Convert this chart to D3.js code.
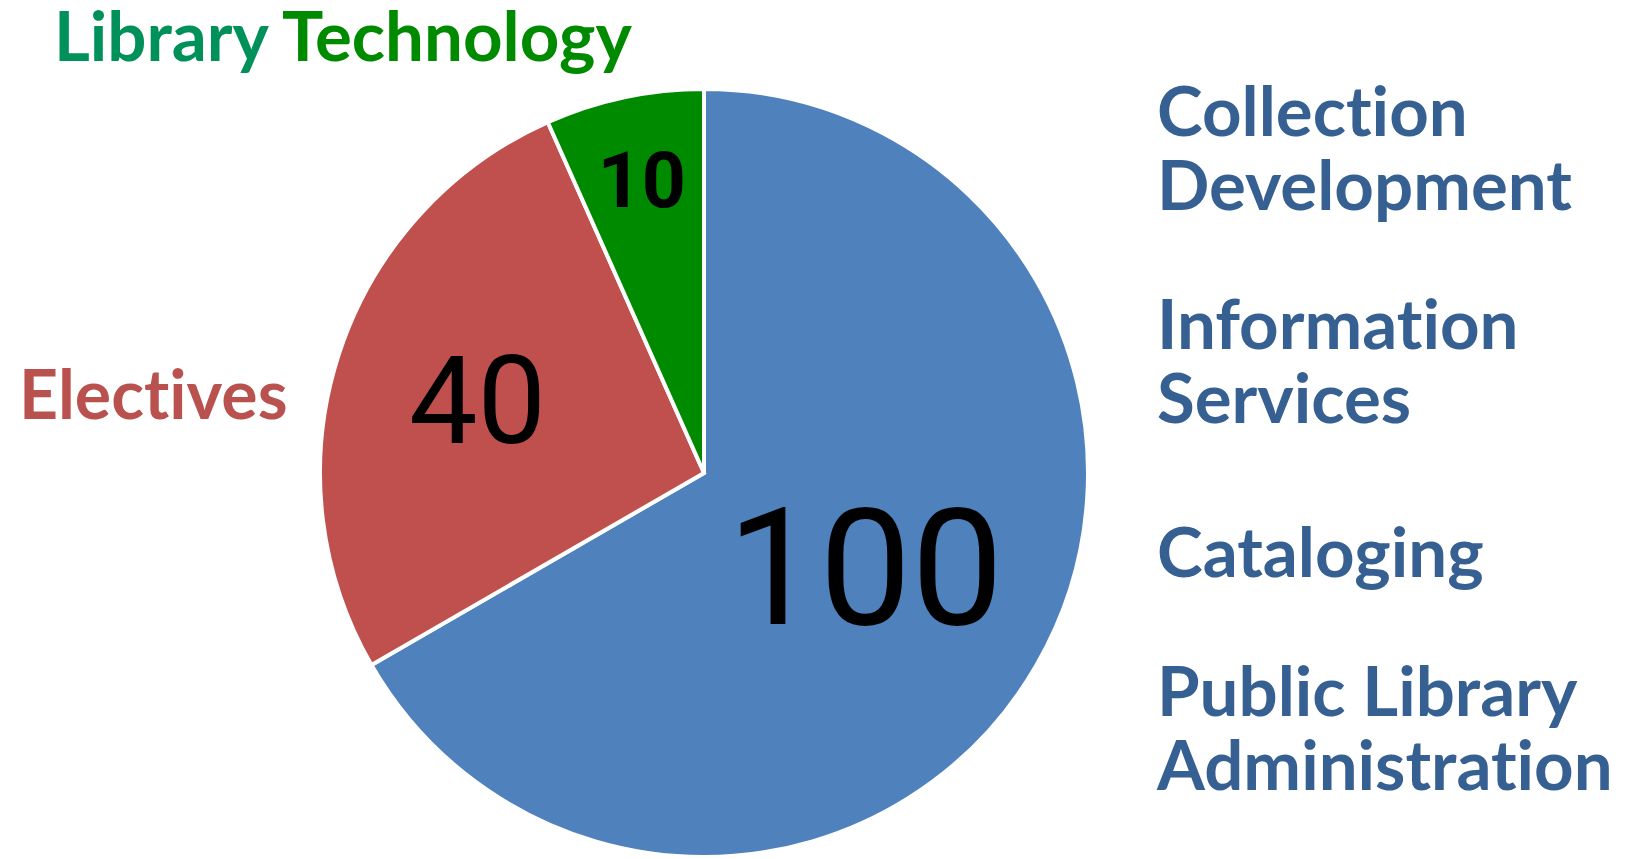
<!DOCTYPE html>
<html>
<head>
<meta charset="utf-8">
<script src="https://cdn.jsdelivr.net/npm/d3@7"></script>
<style>
  html, body { margin: 0; padding: 0; background: #fff; }
  svg { display: block; }
  .cat { font-family: Lato, "Noto Sans", sans-serif; font-weight: 700;
         font-variant-ligatures: none; font-feature-settings: "liga" 0, "clig" 0; }
</style>
</head>
<body>
<svg id="ch" width="1626" height="859"></svg>
<script>
// data
var slices = ["Core courses", "Electives", "Library Technology"];
var values = [100, 40, 10];
var colors = ["#4f81bd", "#c0504d", "#008a00"];
var coreCourses = [
  ["Collection", "Development"],
  ["Information", "Services"],
  ["Cataloging"],
  ["Public Library", "Administration"]
];

var W = 1626, H = 859;
var cx = 704, cy = 473, r = 384;

var svg = d3.select("#ch");
var g = svg.append("g").attr("transform", "translate(" + cx + "," + cy + ")");

var pie = d3.pie().sort(null).value(function (d) { return d; });
var arcs = pie(values);
var arc = d3.arc().innerRadius(0).outerRadius(r);

g.selectAll(".slice")
  .data(arcs)
  .enter()
  .append("path")
  .attr("class", "slice")
  .attr("d", arc)
  .style("fill", function (d, i) { return colors[i]; })
  .style("stroke", "#fff")
  .style("stroke-width", "4px")
  .style("stroke-linejoin", "miter");

// value labels, set along each slice's mid angle
var labelPos = [0.485, 0.62, 0.78];   // fraction of radius
var labelSize = [164, 122, 77];
var labelWeight = [400, 400, 700];
g.selectAll(".num")
  .data(arcs)
  .enter()
  .append("text")
  .attr("class", "num")
  .attr("x", function (d, i) {
    var a = (d.startAngle + d.endAngle) / 2;
    return Math.sin(a) * r * labelPos[i];
  })
  .attr("y", function (d, i) {
    var a = (d.startAngle + d.endAngle) / 2;
    return -Math.cos(a) * r * labelPos[i];
  })
  .attr("text-anchor", "middle")
  .attr("dy", "0.355em")
  .style("font-family", "Roboto, 'Liberation Sans', sans-serif")
  .style("fill", "#000")
  .style("font-size", function (d, i) { return labelSize[i] + "px"; })
  .style("font-weight", function (d, i) { return labelWeight[i]; })
  .text(function (d) { return d.value; });

// category labels
var fs = 69;
var lt = svg.append("text").attr("class", "cat")
  .attr("x", 54).attr("y", 61).style("font-size", fs + "px");
var ltWords = slices[2].split(" ");
lt.append("tspan").style("fill", "#00915a").text(ltWords[0] + " ");
lt.append("tspan").style("fill", "#008a00").text(ltWords[1]);

svg.append("text").attr("class", "cat")
  .attr("x", 19).attr("y", 419)
  .style("font-size", "68px")
  .style("fill", "#b9524f")
  .text(slices[1]);

var groupY = [136, 349, 577, 716];
var lineGap = 74;
var right = svg.append("g");
coreCourses.forEach(function (lines, k) {
  lines.forEach(function (s, j) {
    right.append("text").attr("class", "cat")
      .attr("x", 1157).attr("y", groupY[k] + j * lineGap)
      .style("font-size", fs + "px")
      .style("fill", "#376092")
      .text(s);
  });
});
</script>
</body>
</html>
